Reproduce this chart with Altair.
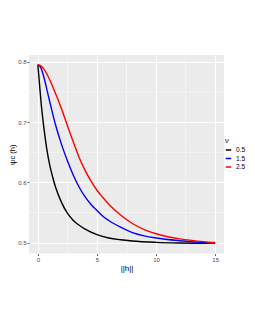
import altair as alt
import pandas as pd

# ---- data ----
nu_levels = ["0.5", "1.5", "2.5"]
line_colors = ["#000000", "#0000FF", "#FF0000"]

h_05 = [0, 0.1, 0.25, 0.5, 0.75, 1, 1.25, 1.5, 2, 2.5, 3, 3.5, 4, 5, 6, 7, 8, 10, 12, 15]
psi_05 = [0.795, 0.772, 0.737, 0.692, 0.656, 0.629, 0.609, 0.592, 0.567, 0.549, 0.537,
          0.529, 0.5225, 0.5135, 0.508, 0.505, 0.503, 0.5008, 0.4997, 0.499]

h_15 = [0, 0.25, 0.5, 0.75, 1, 1.25, 1.5, 2, 2.5, 3, 3.5, 4, 4.5, 5, 5.5, 6, 7, 8, 9, 10, 12, 15]
psi_15 = [0.795, 0.790, 0.775, 0.755, 0.734, 0.714, 0.695, 0.663, 0.636, 0.612, 0.592,
          0.576, 0.5635, 0.5535, 0.544, 0.537, 0.526, 0.517, 0.5115, 0.508, 0.5035, 0.4995]

h_25 = [0, 0.25, 0.5, 0.75, 1, 1.25, 1.5, 1.75, 2, 2.5, 3, 3.5, 4, 4.5, 5, 5.5, 6, 7, 8,
        9, 10, 11, 12, 13, 14, 15]
psi_25 = [0.795, 0.793, 0.788, 0.780, 0.770, 0.759, 0.747, 0.735, 0.722, 0.694, 0.667,
          0.641, 0.620, 0.602, 0.587, 0.575, 0.564, 0.546, 0.532, 0.522, 0.515, 0.510,
          0.5065, 0.504, 0.502, 0.5005]

x_major = [0, 5, 10, 15]
y_major = [0.5, 0.6, 0.7, 0.8]
x_minor = [2.5, 7.5, 12.5]
y_minor = [0.55, 0.65, 0.75]

rows = []
for nu, hs, vs in zip(nu_levels, [h_05, h_15, h_25], [psi_05, psi_15, psi_25]):
    for h, v in zip(hs, vs):
        rows.append({"h": h, "psi": v, "nu": nu})
df = pd.DataFrame(rows)

FONT = "Liberation Sans"

xscale = alt.Scale(domain=[-0.75, 15.75], nice=False, zero=False)
yscale = alt.Scale(domain=[0.4823, 0.811], nice=False, zero=False)

xaxis = alt.Axis(values=x_major, format="d", title="||h||", grid=True,
                 gridColor="white", gridWidth=1, domain=False,
                 tickColor="#333333", tickSize=2, tickWidth=0.8,
                 labelFontSize=6, labelColor="#4D4D4D", labelPadding=1,
                 titleFontSize=8, titleColor="#000000", titleFontWeight="normal",
                 titlePadding=2, labelFont=FONT, titleFont=FONT)
yaxis = alt.Axis(values=y_major, format=".1f", title="ψc (h)", grid=True,
                 gridColor="white", gridWidth=1, domain=False,
                 tickColor="#333333", tickSize=2, tickWidth=0.8,
                 labelFontSize=6, labelColor="#4D4D4D", labelPadding=1,
                 titleFontSize=7.5, titleColor="#000000", titleFontWeight="normal",
                 titlePadding=1, labelFont=FONT, titleFont=FONT)

X = alt.X("h:Q", scale=xscale, axis=xaxis)
Y = alt.Y("psi:Q", scale=yscale, axis=yaxis)

minor_x = alt.Chart(pd.DataFrame({"h": x_minor})).mark_rule(
    color="white", strokeWidth=0.5).encode(x=X)
minor_y = alt.Chart(pd.DataFrame({"psi": y_minor})).mark_rule(
    color="white", strokeWidth=0.5).encode(y=Y)

lines = alt.Chart(df).mark_line(strokeWidth=1.4, interpolate="monotone").encode(
    x=X,
    y=Y,
    color=alt.Color("nu:N",
                    scale=alt.Scale(domain=nu_levels, range=line_colors),
                    legend=alt.Legend(title="ν", orient="none", legendX=196, legendY=82,
                                      symbolType="stroke", symbolStrokeWidth=1.5,
                                      symbolSize=30, labelFontSize=6.5,
                                      labelColor="#000000", titleFontSize=7.5,
                                      titleFontWeight="normal", titlePadding=2,
                                      rowPadding=1.5, labelOffset=4, padding=0,
                                      labelFont=FONT, titleFont=FONT)),
)

chart = alt.layer(minor_x, minor_y, lines).properties(
    width=195, height=198.5,
    autosize=alt.AutoSizeParams(type="none"),
    padding={"left": 21, "top": 47, "right": 23, "bottom": 66},
    background="white",
).configure_view(fill="#EBEBEB", stroke=None)

chart.save("out.html", embed_options={"renderer": "svg", "actions": False})
